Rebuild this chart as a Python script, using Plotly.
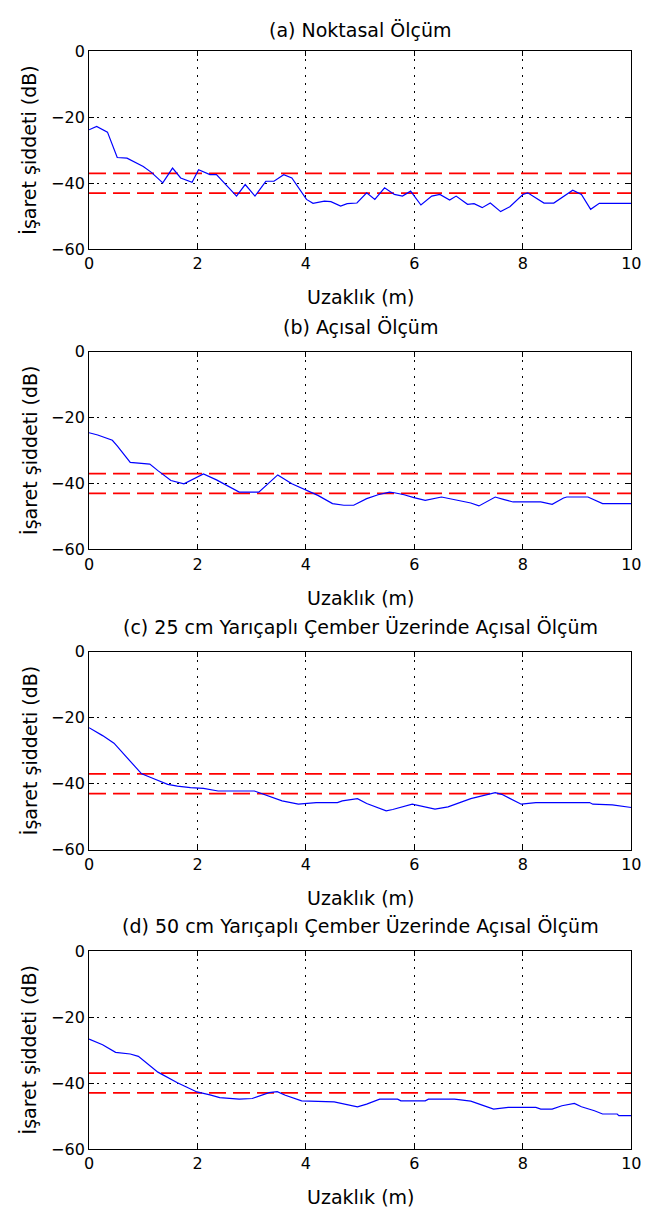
import plotly.graph_objects as go

W, H = 655, 1221

titles = ["(a) Noktasal Ölçüm", "(b) Açısal Ölçüm",
          "(c) 25 cm Yarıçaplı Çember Üzerinde Açısal Ölçüm",
          "(d) 50 cm Yarıçaplı Çember Üzerinde Açısal Ölçüm"]
xlabel = "Uzaklık (m)"
ylabel = "İşaret şiddeti (dB)"
thresholds = [-37, -43]
x_ticks = [0, 2, 4, 6, 8, 10]
y_ticks = [-60, -40, -20, 0]

x_a = [0, 0.14, 0.34, 0.52, 0.70, 1.0, 1.15, 1.36, 1.54, 1.69, 1.90, 2.02, 2.23, 2.35, 2.72, 2.88,
       3.06, 3.26, 3.41, 3.59, 3.74, 4.01, 4.13, 4.34, 4.46, 4.64, 4.76, 4.94, 5.12, 5.27, 5.45,
       5.63, 5.78, 5.93, 6.12, 6.32, 6.47, 6.65, 6.77, 6.98, 7.10, 7.25, 7.40, 7.59, 7.76, 8.00,
       8.09, 8.24, 8.39, 8.57, 8.72, 8.92, 9.08, 9.25, 9.41, 10.0]
y_a = [-23.8, -22.8, -24.5, -32.2, -32.4, -34.9, -36.7, -39.9, -35.4, -38.4, -39.7, -35.9, -37.4,
       -37.4, -43.9, -40.4, -43.9, -39.4, -39.4, -37.4, -38.4, -44.9, -46.1, -45.4, -45.6, -46.9,
       -46.2, -46.0, -42.9, -44.9, -41.4, -43.4, -43.9, -42.4, -46.6, -43.9, -43.4, -45.1, -43.9,
       -46.4, -46.2, -47.4, -46.0, -48.6, -47.1, -43.4, -42.9, -44.4, -46.0, -46.0, -44.4, -42.1,
       -43.4, -47.9, -46.1, -46.1]

x_b = [0, 0.16, 0.43, 0.52, 0.76, 1.12, 1.27, 1.51, 1.75, 2.11, 2.35, 2.77, 3.13, 3.48, 3.74,
       4.01, 4.22, 4.49, 4.70, 4.88, 5.12, 5.33, 5.54, 5.63, 5.81, 5.99, 6.20, 6.50, 6.80, 7.04,
       7.19, 7.49, 7.64, 7.82, 8.33, 8.54, 8.75, 8.81, 9.20, 9.47, 10.0]
y_b = [-24.6, -25.3, -26.9, -28.6, -33.6, -34.1, -36.1, -39.1, -40.1, -37.1, -38.9, -42.6, -42.6,
       -37.4, -40.1, -42.1, -43.6, -46.1, -46.6, -46.6, -44.6, -43.4, -42.6, -42.8, -43.4, -44.3,
       -45.1, -44.1, -45.1, -45.9, -46.8, -44.1, -44.8, -45.6, -45.6, -46.3, -44.4, -44.1, -44.1,
       -46.1, -46.1]

x_c = [0, 0.25, 0.46, 0.97, 1.15, 1.45, 1.63, 1.87, 2.11, 2.38, 3.05, 3.26, 3.56, 3.86, 4.19,
       4.58, 4.67, 4.95, 5.12, 5.48, 5.60, 5.96, 6.38, 6.62, 7.04, 7.49, 7.61, 7.97, 8.24, 9.23,
       9.29, 9.65, 10.0]
y_c = [-23.0, -25.4, -27.7, -37.0, -38.2, -40.2, -40.7, -41.2, -41.4, -42.2, -42.2, -43.4, -45.2,
       -46.2, -45.7, -45.7, -45.2, -44.5, -46.0, -48.2, -47.8, -46.2, -47.7, -47.0, -44.5, -42.7,
       -43.2, -46.2, -45.7, -45.7, -46.2, -46.4, -47.2]

x_d = [0, 0.25, 0.49, 0.76, 0.91, 1.27, 1.63, 1.99, 2.23, 2.41, 2.77, 3.01, 3.32, 3.47, 3.62,
       3.92, 4.52, 4.70, 4.95, 5.12, 5.36, 5.69, 5.75, 6.20, 6.26, 6.74, 7.04, 7.25, 7.46, 7.73,
       8.24, 8.33, 8.54, 8.72, 8.95, 9.08, 9.32, 9.47, 9.74, 9.77, 10.0]
y_d = [-26.7, -28.4, -30.7, -31.2, -31.9, -36.7, -39.9, -42.7, -43.6, -44.4, -44.9, -44.7, -42.9,
       -42.6, -43.7, -45.4, -45.7, -46.4, -47.2, -46.4, -44.9, -44.9, -45.4, -45.4, -44.9, -44.9,
       -45.5, -46.7, -47.9, -47.4, -47.4, -47.9, -47.9, -46.9, -46.2, -47.2, -48.4, -49.4, -49.4,
       -49.9, -49.9]

series = [(x_a, y_a), (x_b, y_b), (x_c, y_c), (x_d, y_d)]

# layout geometry (page pixels)
PL, PR = 86, 641
tops = [43, 348, 653, 957]
PH = 201
title_y = [21, 323, 628, 932]
xlab_y = [293, 598, 903, 1207]
ylab_x = 25


def px(v):
    return v / W


def py(v):
    return 1 - v / H


FONT = "DejaVu Sans"
LBL = 19

fig = go.Figure()
annotations = []
for i, ((xs, ys), top) in enumerate(zip(series, tops)):
    n = "" if i == 0 else str(i + 1)
    xa, ya = "x" + n, "y" + n
    for t in thresholds:
        fig.add_trace(go.Scatter(x=[0, 10], y=[t, t], mode="lines", xaxis=xa, yaxis=ya,
                                 line=dict(color="#ff0000", width=1.8, dash="17px,7px"),
                                 showlegend=False, hoverinfo="skip"))
    fig.add_trace(go.Scatter(x=xs, y=ys, mode="lines", xaxis=xa, yaxis=ya,
                             line=dict(color="#0000ff", width=1.2), showlegend=False))
    axcommon = dict(showline=True, linecolor="black", linewidth=1, mirror="ticks",
                    ticks="inside", ticklen=5, tickcolor="black", tickwidth=1,
                    showgrid=True, gridcolor="black", gridwidth=1, griddash="2px,6px",
                    zeroline=False, tickfont=dict(family=FONT, size=16, color="black"))
    fig.layout["xaxis" + n] = dict(axcommon, domain=[px(PL), px(PR)], range=[0, 10],
                                   tickvals=x_ticks, anchor=ya)
    fig.layout["yaxis" + n] = dict(axcommon, domain=[py(top + PH), py(top)],
                                   range=[-60, 0], tickvals=y_ticks, anchor=xa)
    cx = px((PL + PR) / 2)
    annotations.append(dict(text=titles[i], x=cx, y=py(title_y[i]), xref="paper", yref="paper",
                            xanchor="center", yanchor="middle", showarrow=False,
                            font=dict(family=FONT, size=LBL, color="black")))
    annotations.append(dict(text=xlabel, x=cx, y=py(xlab_y[i]), xref="paper", yref="paper",
                            xanchor="center", yanchor="middle", showarrow=False,
                            font=dict(family=FONT, size=LBL, color="black")))
    annotations.append(dict(text=ylabel, x=px(ylab_x), y=py(top + PH / 2), xref="paper",
                            yref="paper", xanchor="center", yanchor="middle", textangle=-90,
                            showarrow=False, font=dict(family=FONT, size=LBL, color="black")))

fig.update_layout(width=W, height=H, margin=dict(l=0, r=0, t=0, b=0),
                  paper_bgcolor="white", plot_bgcolor="white", annotations=annotations)

fig.write_html("out.html", post_script=(
    "document.documentElement.style.margin='0';document.documentElement.style.overflow='hidden';"
    "document.body.style.margin='0';document.body.style.padding='0';"
    "document.body.style.overflow='hidden';"))
